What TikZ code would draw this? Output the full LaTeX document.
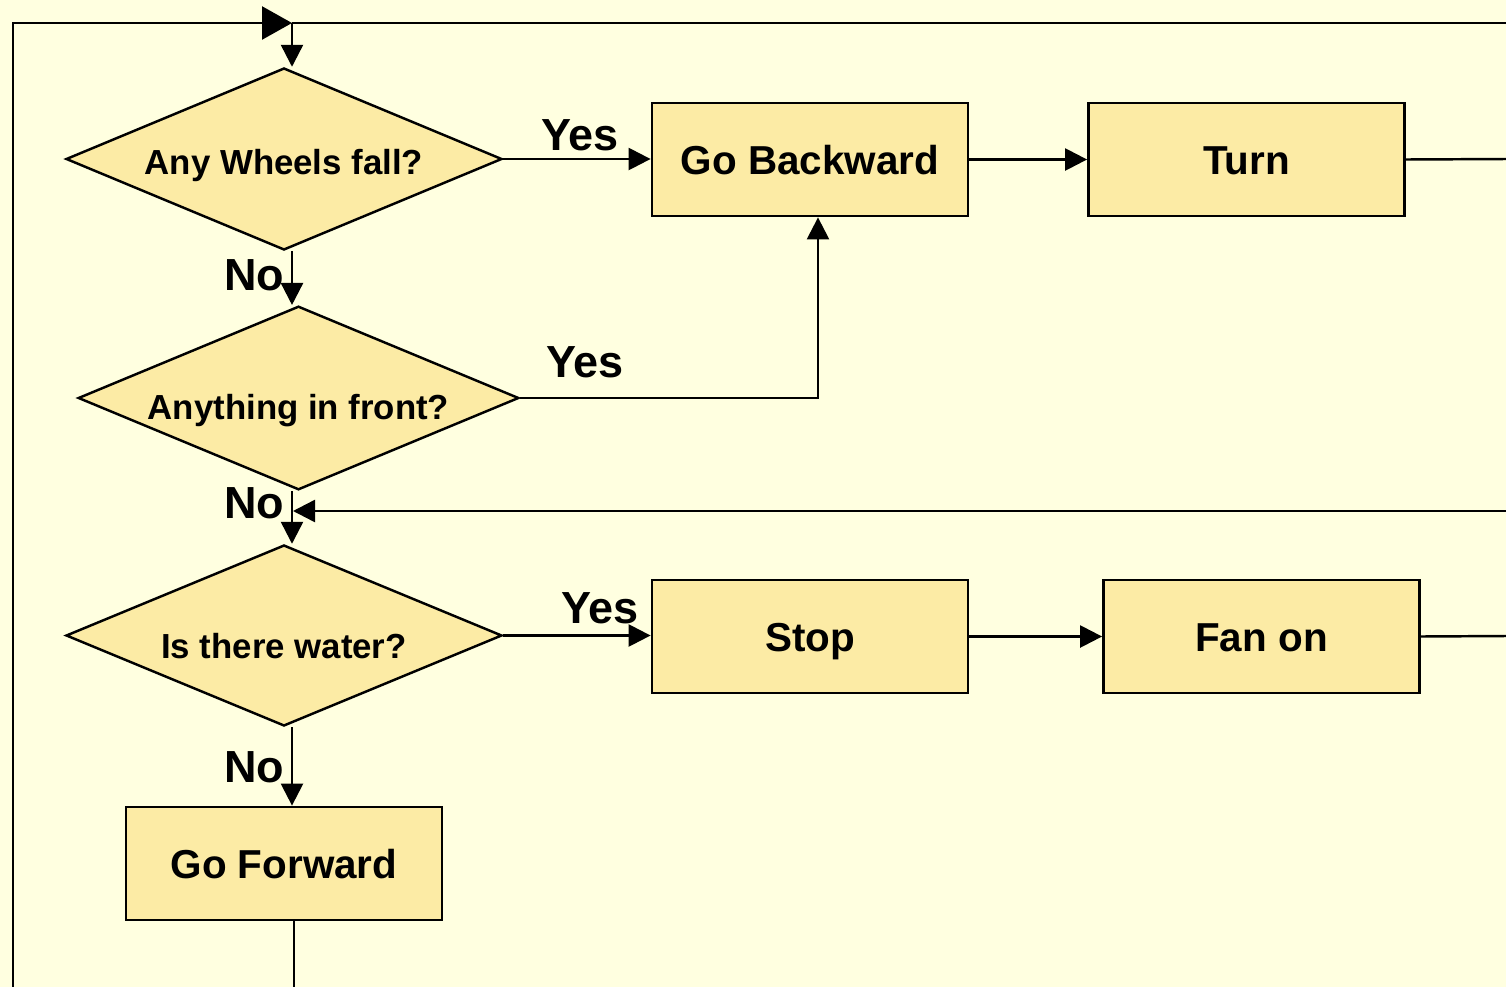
\documentclass[tikz,border=0pt]{standalone}
\usepackage{fontspec}
\setmainfont{Liberation Sans}
\usetikzlibrary{shapes.geometric, arrows.meta}
\definecolor{bgyellow}{RGB}{255,255,224}
\definecolor{boxgold}{RGB}{252,235,165}

\begin{document}
\begin{tikzpicture}[
	decision/.style={diamond, aspect=2.4, draw, fill=boxgold, line width=0.7pt, inner sep=0pt, text depth=0.08cm, font=\fontsize{9.9}{12}\selectfont\bfseries},
	process/.style={rectangle, draw, fill=boxgold, line width=0.8pt, minimum width=3.16cm, minimum height=1.13cm, text height=0.38cm, text depth=0.09cm, font=\fontsize{11.5}{14}\selectfont\bfseries},
	arr/.style={line width=0.7pt, -{Triangle[length=0.22cm, width=0.22cm]}},
	line/.style={line width=0.7pt},
	lbl/.style={font=\fontsize{12.8}{15}\selectfont\bfseries}
]
	% Background
	\fill[bgyellow] (0,0) rectangle (15.06,-9.87);
	\useasboundingbox (0,0) rectangle (15.06,-9.87);
	% Decisions
	\node[decision, minimum width=4.36cm, minimum height=1.82cm, text height=0.38cm] (wheels) at (2.84,-1.59) {Any Wheels fall?};
	\node[decision, minimum width=4.35cm, minimum height=1.80cm, text height=0.50cm] (front) at (2.985,-3.98) {Anything in front?};
	\node[decision, minimum width=4.36cm, minimum height=1.81cm, text height=0.54cm] (water) at (2.84,-6.355) {Is there water?};
	% Actions
	\node[process] (back) at (8.10,-1.595) {Go Backward};
	\node[process] (turn) at (12.465,-1.595) {Turn};
	\node[process] (stop) at (8.10,-6.365) {Stop};
	\node[process] (fan) at (12.615,-6.365) {Fan on};
	\node[process] (fwd) at (2.84,-8.635) {Go Forward};
	% Loose ends
	\coordinate (top) at (2.92,-0.23);
	\coordinate (topL) at (0.13,-0.23);
	\coordinate (topR) at (15.06,-0.23);
	\coordinate (botL) at (0.13,-9.87);
	\coordinate (ret) at (15.06,-5.11);
	\coordinate (turnR) at (15.06,-1.59);
	\coordinate (fanR) at (15.06,-6.36);
	\coordinate (fwdEnd) at (2.94,-9.87);
	% Main loop
	\draw[line, -{Triangle[length=0.3cm, width=0.33cm]}] (botL) -- (topL) -- (top);
	\draw[line] (topR) -- (top);
	\draw[arr] (top) -- (top |- wheels.north);
	\draw[line] ([xshift=0.1cm]fwd.south) -- (fwdEnd);
	% Yes branches
	\draw[arr] (wheels.east) -- (wheels.east -| back.west);
	\draw[arr] (back.east) -- (turn.west);
	\draw[line] (turn.east) -- (turnR);
	\draw[arr] (front.east) -| ([xshift=0.08cm]back.south);
	\draw[arr] (water.east) -- (water.east -| stop.west);
	\draw[arr] (stop.east) -- (fan.west);
	\draw[line] (fan.east) -- (fanR);
	% No branches
	\draw[arr] (top |- wheels.south) -- (top |- front.north);
	\draw[arr] (top |- front.south) -- (top |- water.north);
	\draw[arr] (ret) -- ([xshift=0.01cm]top |- ret);
	\draw[arr] (top |- water.south) -- (top |- fwd.north);
	% Labels
	\node[lbl] (y1) at (5.80,-1.35) {Yes};
	\node[lbl] (y2) at (5.85,-3.62) {Yes};
	\node[lbl] (y3) at (6.00,-6.08) {Yes};
	\node[lbl] (n1) at (2.54,-2.75) {No};
	\node[lbl] (n2) at (2.54,-5.03) {No};
	\node[lbl] (n3) at (2.54,-7.67) {No};
\end{tikzpicture}
\end{document}
